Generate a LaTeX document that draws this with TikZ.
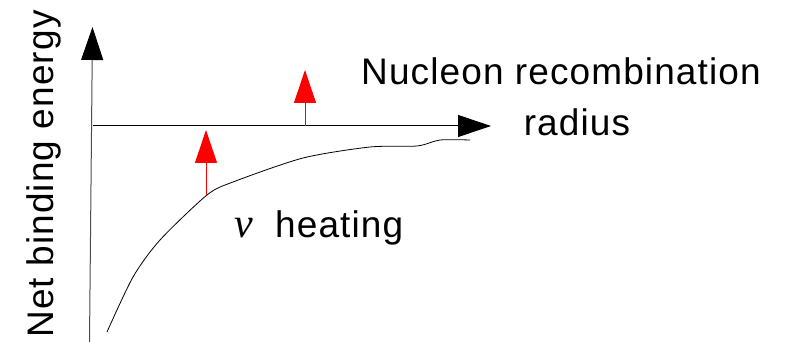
\documentclass[tikz,border=0pt]{standalone}
\usepackage{fontspec}
\setmainfont{Liberation Sans}[LetterSpace=3]
\newfontfamily\nufont{Liberation Serif}
\usetikzlibrary{arrows.meta}
\tikzset{
  axis/.style={line width=1pt, -{Triangle[length=33pt,width=22pt,color=black]}},
  heat/.style={red, line width=1pt, -{Triangle[length=33pt,width=22pt]}},
  lbl/.style={inner sep=0pt, anchor=base, font=\fontsize{37}{40}\selectfont},
}
\begin{document}
\begin{tikzpicture}[x=1pt,y=-1pt]
\useasboundingbox (0,0) rectangle (785,342);
% axes
\coordinate (yb) at (89.5,342);
\coordinate (yt) at (92.5,27);
\coordinate (xl) at (93,126);
\coordinate (xr) at (491,126);
\draw[axis, black!70] (yb) -- (yt);
\draw[axis] (xl) -- (xr);
% curve
\draw[line width=0.8pt] plot[smooth, tension=0.45] coordinates {
  (107,332) (133,277) (160,240) (207,195) (233,182) (303,158) (370,147) (417,146) (440,140) (470,140)};
% heating arrows
\coordinate (a1) at (206,195);
\coordinate (a1t) at (206,130);
\coordinate (a2) at (305,126);
\coordinate (a2t) at (305,70);
\draw[heat] (a1) -- (a1t);
\draw[heat] (a2) -- (a2t);
% labels
\node[lbl] (nuc) at (561,85) {Nucleon recombination};
\node[lbl] (rad) at (577,136) {radius};
\node[lbl, anchor=base west] (heat) at (275,237) {heating};
\node[inner sep=0pt, anchor=base, font=\fontsize{42}{44}\selectfont\nufont\itshape] (nu) at (244,237) {ν};
\node[lbl, rotate=90] (nbe) at (53,174) {Net binding energy};
\end{tikzpicture}
\end{document}
